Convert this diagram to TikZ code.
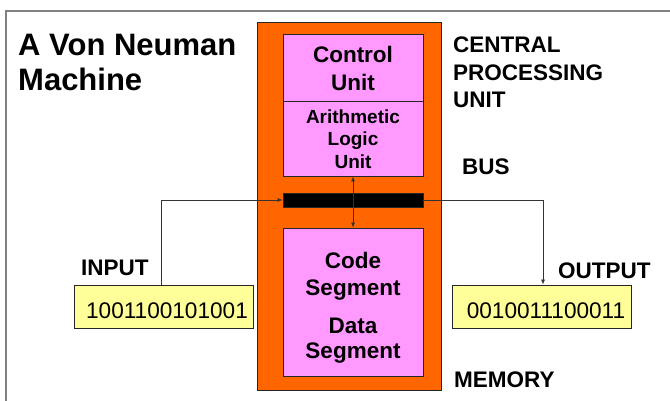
\documentclass[tikz,border=0pt]{standalone}
\usepackage{fontspec}
\setmainfont{Liberation Sans}
\usetikzlibrary{arrows.meta}
\definecolor{orangebox}{HTML}{FF6600}
\definecolor{pinkbox}{HTML}{FF99FF}
\definecolor{yellowbox}{HTML}{FFFF99}
\definecolor{framegray}{HTML}{808080}
\tikzset{
  lbl/.style={anchor=base west, inner sep=0pt, font=\fontsize{22.5}{27}\selectfont\bfseries},
  ttl/.style={anchor=base west, inner sep=0pt, font=\fontsize{31}{35}\selectfont\bfseries},
  intxt/.style={anchor=base, inner sep=0pt, font=\fontsize{22.5}{27}\selectfont\bfseries},
  alutxt/.style={anchor=base, inner sep=0pt, font=\fontsize{19}{22}\selectfont\bfseries},
  bits/.style={anchor=base, inner sep=0pt, font=\fontsize{22.6}{27}\selectfont},
  boxed/.style={draw=black!85, line width=0.8pt, inner sep=0pt},
  conn/.style={draw=black!80, line width=0.7pt},
  tip/.style={-{Latex[length=5pt,width=4pt]}},
}
\begin{document}
\begin{tikzpicture}[x=1pt,y=-1pt]
\useasboundingbox (0,0) rectangle (670,401);
% frame
\draw[framegray, line width=1.4pt] (6,401) -- (6,11) -- (670,11);
% boxes
\node[boxed, fill=orangebox, minimum width=184, minimum height=368] (outer) at (349,206) {};
\node[boxed, fill=pinkbox, minimum width=140, minimum height=67] (cu) at (353,67.5) {};
\node[boxed, fill=pinkbox, minimum width=140, minimum height=75] (alu) at (353,138.5) {};
\node[boxed, fill=pinkbox, minimum width=140, minimum height=148] (mem) at (353,302) {};
\node[boxed, fill=black, minimum width=140, minimum height=14] (bus) at (353,200) {};
\node[boxed, fill=yellowbox, minimum width=179, minimum height=43] (input) at (163.5,306.5) {};
\node[boxed, fill=yellowbox, minimum width=179, minimum height=43] (output) at (541.5,306.5) {};
% texts inside boxes
\node[intxt] (cu1) at (353,63) {Control};
\node[intxt] (cu2) at (353,91) {Unit};
\node[alutxt] (alu1) at (353,124) {Arithmetic};
\node[alutxt] (alu2) at (353,146) {Logic};
\node[alutxt] (alu3) at (353,169) {Unit};
\node[intxt] (m1) at (353,268) {Code};
\node[intxt] (m2) at (353,295) {Segment};
\node[intxt] (m3) at (353,333) {Data};
\node[intxt] (m4) at (353,358) {Segment};
\node[bits] (inbits) at (167,318) {1001100101001};
\node[bits] (outbits) at (546,318) {0010011100011};
% labels
\node[ttl] (t1) at (18,56) {A Von Neuman};
\node[ttl] (t2) at (18,91) {Machine};
\node[lbl] (c1) at (453,53) {CENTRAL};
\node[lbl] (c2) at (453,81) {PROCESSING};
\node[lbl] (c3) at (453,108) {UNIT};
\node[lbl] (buslbl) at (462,175) {BUS};
\node[lbl] (inlbl) at (81,275) {INPUT};
\node[lbl] (outlbl) at (558,278) {OUTPUT};
\node[lbl] (memlbl) at (454,387) {MEMORY};
% connectors
\draw[conn, tip] ([xshift=-2.5pt]input.north) |- (bus.west);
\draw[conn, tip] (bus.east) -| ([xshift=1.5pt]output.north);
\draw[conn, {Latex[length=5pt,width=4pt]}-{Latex[length=5pt,width=4pt]}] (alu.south) -- (mem.north);
\end{tikzpicture}
\end{document}
